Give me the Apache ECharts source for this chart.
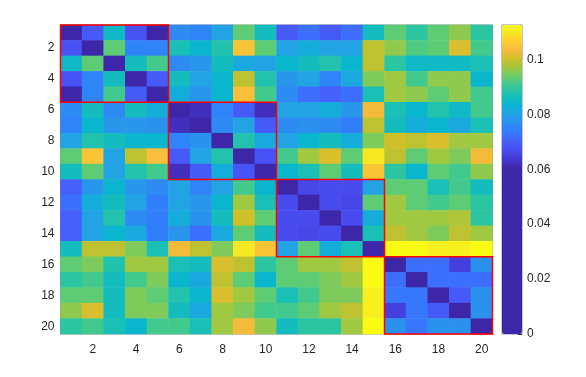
<!DOCTYPE html>
<html>
<head>
<meta charset="utf-8">
<script src="https://cdn.jsdelivr.net/npm/echarts@6/dist/echarts.min.js"></script>
<style>
  html, body { margin: 0; padding: 0; background: #fff; }
  #chart { width: 586px; height: 377px; }
</style>
</head>
<body>
<div id="chart"></div>
<script>
// row / column labels
const categories = ['1', '2', '3', '4', '5', '6', '7', '8', '9', '10',
  '11', '12', '13', '14', '15', '16', '17', '18', '19', '20']

// matrix rows, top to bottom (row 1 first)
const row1 = [0, 0.069, 0.085, 0.068, 0.058, 0.076, 0.075, 0.080, 0.093, 0.086, 0.069, 0.072, 0.069, 0.072, 0.086, 0.093, 0.089, 0.093, 0.096, 0.089]
const row2 = [0.068, 0, 0.093, 0.075, 0.075, 0.087, 0.084, 0.088, 0.105, 0.093, 0.080, 0.082, 0.080, 0.080, 0.099, 0.096, 0.092, 0.093, 0.101, 0.091]
const row3 = [0.085, 0.093, 0, 0.086, 0.091, 0.076, 0.078, 0.086, 0.081, 0.080, 0.084, 0.086, 0.088, 0.084, 0.099, 0.089, 0.085, 0.085, 0.085, 0.087]
const row4 = [0.068, 0.075, 0.086, 0, 0.069, 0.086, 0.080, 0.084, 0.099, 0.088, 0.078, 0.080, 0.075, 0.081, 0.095, 0.097, 0.091, 0.096, 0.096, 0.084]
const row5 = [0.058, 0.075, 0.091, 0.069, 0, 0.082, 0.078, 0.084, 0.104, 0.091, 0.076, 0.072, 0.070, 0.072, 0.087, 0.097, 0.096, 0.093, 0.096, 0.091]
const row6 = [0.076, 0.086, 0.076, 0.086, 0.082, 0, 0.062, 0.075, 0.069, 0.062, 0.080, 0.080, 0.082, 0.078, 0.103, 0.087, 0.084, 0.088, 0.085, 0.091]
const row7 = [0.075, 0.084, 0.078, 0.078, 0.077, 0.062, 0, 0.076, 0.080, 0.069, 0.076, 0.077, 0.076, 0.074, 0.099, 0.086, 0.082, 0.084, 0.081, 0.087]
const row8 = [0.080, 0.088, 0.086, 0.084, 0.084, 0.075, 0.077, 0, 0.088, 0.081, 0.080, 0.084, 0.086, 0.082, 0.095, 0.100, 0.099, 0.101, 0.097, 0.097]
const row9 = [0.093, 0.105, 0.080, 0.099, 0.104, 0.069, 0.080, 0.088, 0, 0.068, 0.091, 0.097, 0.101, 0.093, 0.110, 0.099, 0.093, 0.097, 0.095, 0.103]
const row10 = [0.086, 0.093, 0.080, 0.088, 0.091, 0.062, 0.069, 0.082, 0.068, 0, 0.084, 0.087, 0.093, 0.086, 0.105, 0.089, 0.084, 0.093, 0.091, 0.096]
const row11 = [0.070, 0.078, 0.084, 0.078, 0.076, 0.080, 0.075, 0.080, 0.091, 0.084, 0, 0.066, 0.067, 0.067, 0.080, 0.093, 0.093, 0.087, 0.091, 0.086]
const row12 = [0.072, 0.082, 0.086, 0.080, 0.074, 0.080, 0.078, 0.084, 0.097, 0.087, 0.067, 0, 0.067, 0.066, 0.093, 0.097, 0.093, 0.091, 0.093, 0.089]
const row13 = [0.070, 0.080, 0.088, 0.076, 0.074, 0.082, 0.077, 0.086, 0.100, 0.093, 0.067, 0.067, 0, 0.067, 0.082, 0.097, 0.097, 0.097, 0.098, 0.089]
const row14 = [0.070, 0.080, 0.084, 0.081, 0.074, 0.078, 0.072, 0.081, 0.093, 0.086, 0.067, 0.066, 0.067, 0, 0.087, 0.099, 0.097, 0.095, 0.099, 0.097]
const row15 = [0.086, 0.099, 0.099, 0.095, 0.087, 0.103, 0.099, 0.095, 0.110, 0.105, 0.080, 0.093, 0.082, 0.087, 0, 0.1125, 0.1125, 0.111, 0.111, 0.1125]
const row16 = [0.093, 0.095, 0.088, 0.097, 0.097, 0.087, 0.086, 0.101, 0.099, 0.089, 0.093, 0.097, 0.097, 0.099, 0.1125, 0, 0.072, 0.072, 0.065, 0.077]
const row17 = [0.089, 0.091, 0.086, 0.091, 0.095, 0.084, 0.081, 0.099, 0.093, 0.084, 0.093, 0.093, 0.095, 0.097, 0.1125, 0.072, 0, 0.072, 0.072, 0.072]
const row18 = [0.093, 0.093, 0.086, 0.095, 0.093, 0.088, 0.084, 0.101, 0.097, 0.093, 0.087, 0.091, 0.095, 0.095, 0.111, 0.073, 0.073, 0, 0.069, 0.077]
const row19 = [0.096, 0.101, 0.086, 0.095, 0.095, 0.086, 0.081, 0.097, 0.095, 0.091, 0.091, 0.093, 0.097, 0.099, 0.111, 0.065, 0.073, 0.069, 0, 0.077]
const row20 = [0.089, 0.091, 0.087, 0.084, 0.091, 0.091, 0.087, 0.097, 0.103, 0.096, 0.086, 0.089, 0.089, 0.097, 0.1125, 0.077, 0.073, 0.077, 0.077, 0]

// cluster blocks (first and last index, 0-based)
const blocks = [[0, 4], [5, 9], [10, 14], [15, 19]]

// colour scale
const colorMin = 0
const colorMax = 0.1125
const colorTicks = [0, 0.02, 0.04, 0.06, 0.08, 0.1]

const rows = [row1, row2, row3, row4, row5, row6, row7, row8, row9, row10,
  row11, row12, row13, row14, row15, row16, row17, row18, row19, row20]

// parula colormap: below the threshold everything is the darkest colour
const darkLimit = 0.0605
const parulaStops = [[62, 38, 168], [69, 55, 213], [72, 77, 240], [69, 99, 253], [50, 124, 252],
  [43, 145, 239], [32, 165, 227], [8, 181, 208], [25, 191, 182], [55, 200, 151], [100, 205, 111],
  [157, 201, 67], [209, 191, 39], [248, 186, 61], [252, 207, 48], [245, 233, 36], [249, 251, 21]]
const parulaPos = [0, 4, 8, 12, 16, 20, 24, 28, 32, 36, 40, 44, 48, 52, 56, 60, 63].map(i => i / 63)

function parula(t) {
  t = Math.max(0, Math.min(1, t))
  let k = 0
  while (k < parulaPos.length - 2 && t > parulaPos[k + 1]) k++
  const f = (t - parulaPos[k]) / (parulaPos[k + 1] - parulaPos[k])
  const a = parulaStops[k]
  const b = parulaStops[k + 1]
  const c = a.map((v, i) => Math.round(v + (b[i] - v) * f))
  return 'rgb(' + c.join(',') + ')'
}

const colorList = []
const steps = 225
for (let i = 0; i <= steps; i++) {
  const v = colorMin + (colorMax - colorMin) * i / steps
  colorList.push(v < darkLimit ? parula(0) : parula((v - darkLimit) / (colorMax - darkLimit)))
}

const heatData = []
rows.forEach((r, y) => {
  r.forEach((v, x) => heatData.push([x, y, v]))
})

const textColor = '#262626'
const frameColor = '#8c8c8c'
const font = 'Liberation Sans'
const evenOnly = (idx) => idx % 2 === 1

const chart = echarts.init(document.getElementById('chart'), null, { renderer: 'canvas' })

const option = {
  backgroundColor: '#fff',
  animation: false,
  grid: [
    { left: 60.5, top: 25, width: 432, height: 309, show: true, borderColor: frameColor, borderWidth: 1, backgroundColor: 'transparent' },
    { left: 502, top: 25, width: 20, height: 309, show: true, borderColor: frameColor, borderWidth: 1, backgroundColor: 'transparent' }
  ],
  xAxis: [
    {
      type: 'category', data: categories, gridIndex: 0, position: 'bottom',
      axisLine: { show: false },
      axisTick: { show: true, inside: true, length: 4, alignWithLabel: true, interval: evenOnly, lineStyle: { color: textColor } },
      axisLabel: { interval: evenOnly, color: textColor, fontSize: 12, fontFamily: font, margin: 10 },
      splitLine: { show: false }
    },
    {
      type: 'category', data: categories, gridIndex: 0, position: 'top',
      axisLine: { show: false },
      axisTick: { show: true, inside: true, length: 4, alignWithLabel: true, interval: evenOnly, lineStyle: { color: textColor } },
      axisLabel: { show: false },
      splitLine: { show: false }
    },
    { type: 'category', data: ['c'], gridIndex: 1, show: false }
  ],
  yAxis: [
    {
      type: 'category', data: categories, gridIndex: 0, inverse: true, position: 'left',
      axisLine: { show: false },
      axisTick: { show: true, inside: true, length: 4, alignWithLabel: true, interval: evenOnly, lineStyle: { color: textColor } },
      axisLabel: { interval: evenOnly, color: textColor, fontSize: 12, fontFamily: font, margin: 6 },
      splitLine: { show: false }
    },
    {
      type: 'category', data: categories, gridIndex: 0, inverse: true, position: 'right',
      axisLine: { show: false },
      axisTick: { show: true, inside: true, length: 4, alignWithLabel: true, interval: evenOnly, lineStyle: { color: textColor } },
      axisLabel: { show: false },
      splitLine: { show: false }
    },
    {
      type: 'value', gridIndex: 1, position: 'right', min: colorMin, max: colorMax, interval: 0.02,
      axisLine: { show: false },
      axisTick: { show: true, inside: true, length: 4, lineStyle: { color: textColor } },
      axisLabel: {
        color: textColor, fontSize: 12, fontFamily: font, margin: 5, showMaxLabel: false,
        formatter: (v) => colorTicks.some(t => Math.abs(t - v) < 1e-9) ? String(+v.toFixed(2)) : ''
      },
      splitLine: { show: false }
    }
  ],
  visualMap: {
    type: 'continuous',
    seriesIndex: 0,
    min: colorMin,
    max: colorMax,
    calculable: false,
    realtime: false,
    orient: 'vertical',
    left: 502,
    top: 25,
    itemWidth: 20,
    itemHeight: 309,
    padding: 0,
    text: null,
    showLabel: false,
    inRange: { color: colorList }
  },
  series: [
    {
      type: 'heatmap',
      xAxisIndex: 0,
      yAxisIndex: 0,
      data: heatData,
      itemStyle: { borderWidth: 0 },
      emphasis: { disabled: true },
      progressive: 0
    },
    {
      type: 'custom',
      xAxisIndex: 0,
      yAxisIndex: 0,
      data: blocks,
      z: 5,
      silent: true,
      renderItem: (params, api) => {
        const a = api.coord([api.value(0), api.value(0)])
        const b = api.coord([api.value(1), api.value(1)])
        const s = api.size([1, 1])
        return {
          type: 'rect',
          shape: {
            x: a[0] - s[0] / 2,
            y: Math.min(a[1], b[1]) - s[1] / 2,
            width: b[0] - a[0] + s[0],
            height: Math.abs(b[1] - a[1]) + s[1]
          },
          style: { fill: 'none', stroke: '#ff0000', lineWidth: 1.5 }
        }
      }
    }
  ]
}

chart.setOption(option)
</script>
</body>
</html>
